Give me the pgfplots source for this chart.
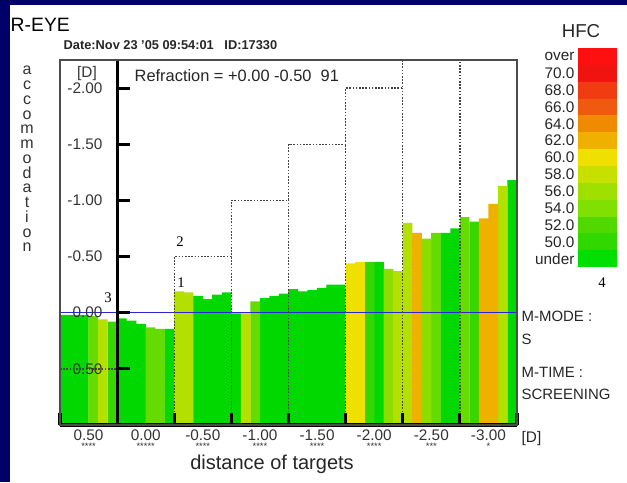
\documentclass[border=0pt]{standalone}
\usepackage{pgfplots}
\pgfplotsset{compat=1.18}
\usepackage{fontspec}
\setmainfont{Liberation Sans}
\newfontfamily\seriffont{Liberation Serif}
\definecolor{navy}{RGB}{0,0,104}
\definecolor{cG}{RGB}{0,216,0}
\definecolor{cM}{RGB}{56,214,0}
\definecolor{cL}{RGB}{100,220,0}
\definecolor{cLL}{RGB}{140,222,0}
\definecolor{cYG}{RGB}{180,224,0}
\definecolor{cY}{RGB}{240,224,0}
\definecolor{cO}{RGB}{240,176,0}
\definecolor{tgt}{RGB}{70,70,70}
\definecolor{hb0}{RGB}{255,16,16}
\definecolor{hb1}{RGB}{240,20,16}
\definecolor{hb2}{RGB}{240,60,16}
\definecolor{hb3}{RGB}{240,90,16}
\definecolor{hb4}{RGB}{240,138,0}
\definecolor{hb5}{RGB}{240,176,0}
\definecolor{hb6}{RGB}{240,224,0}
\definecolor{hb7}{RGB}{200,224,0}
\definecolor{hb8}{RGB}{160,224,0}
\definecolor{hb9}{RGB}{128,224,0}
\definecolor{hb10}{RGB}{80,216,0}
\definecolor{hb11}{RGB}{48,216,0}
\definecolor{hb12}{RGB}{0,224,0}
\newcommand{\fs}[1]{\fontsize{#1}{#1}\selectfont}
\begin{document}
\begin{tikzpicture}[x=0.75pt,y=-0.75pt]
\fill[navy] (0,0) rectangle (627,482);
\fill[white] (10,5) rectangle (627,482);
\coordinate (axpos) at (60,425);
\begin{axis}[
  at={(axpos)}, anchor=south west,
  scale only axis, width=342.75pt, height=273.75pt,
  xmin=0, xmax=8, ymin=0, ymax=3.25,
  axis on top,
  axis line style={draw=black!70, line width=0.8pt},
  major tick length=0pt,
  xtick={0.5,1.5,2.5,3.5,4.5,5.5,6.5,7.5},
  xticklabels={{0.50\\[-6pt]\fs{7}****},{0.00\\[-6pt]\fs{7}*****},{-0.50\\[-6pt]\fs{7}****},{-1.00\\[-6pt]\fs{7}****},{-1.50\\[-6pt]\fs{7}****},{-2.00\\[-6pt]\fs{7}****},{-2.50\\[-6pt]\fs{7}***},{-3.00\\[-6pt]\fs{7}*}},
  ytick={0.5,1,1.5,2,2.5,3},
  yticklabels={{0.50},{0.00},{-0.50},{-1.00},{-1.50},{-2.00}},
  xticklabel style={font=\fontsize{11.5}{13}\selectfont, align=center, text=black!80},
  yticklabel style={font=\fs{11.5}, anchor=east, xshift=35.3pt, text=black!80},
  clip=false,
]
% bars
\addplot[ybar, bar width=0.17, bar shift=0pt, fill=cG, draw=none] coordinates {
(0.0833,0.98)(0.25,0.98)(0.4167,0.98)
(1.0833,0.95)(1.25,0.93)(1.4167,0.90)(1.9167,0.855)
(2.4167,1.15)(2.5833,1.12)(2.75,1.16)(2.9167,1.18)
(3.0833,0.995)(3.5833,1.13)(3.75,1.15)(3.9167,1.17)
(4.0833,1.21)(4.25,1.19)(4.4167,1.20)(4.5833,1.22)(4.75,1.25)(4.9167,1.25)
(5.5833,1.45)
(6.75,1.71)(6.9167,1.75)
(7.9167,2.18)};
\addplot[ybar, bar width=0.17, bar shift=0pt, fill=cM, draw=none] coordinates {
(0.9167,0.92)(5.4167,1.45)(7.25,1.81)};
\addplot[ybar, bar width=0.17, bar shift=0pt, fill=cL, draw=none] coordinates {
(0.5833,0.97)(1.5833,0.87)(1.75,0.855)(3.4167,1.10)(6.5833,1.71)(7.0833,1.85)};
\addplot[ybar, bar width=0.17, bar shift=0pt, fill=cLL, draw=none] coordinates {
(5.75,1.39)(6.4167,1.66)};
\addplot[ybar, bar width=0.17, bar shift=0pt, fill=cYG, draw=none] coordinates {
(0.75,0.94)(2.0833,1.19)(2.25,1.18)(3.25,0.995)(5.9167,1.37)(6.0833,1.80)(7.75,2.13)};
\addplot[ybar, bar width=0.17, bar shift=0pt, fill=cY, draw=none] coordinates {
(5.0833,1.44)(5.25,1.45)};
\addplot[ybar, bar width=0.17, bar shift=0pt, fill=cO, draw=none] coordinates {
(6.25,1.71)(7.4167,1.84)(7.5833,1.97)};
% zero line
\addplot[draw={rgb,255:red,40;green,40;blue,210}, line width=0.8pt] coordinates {(0,1)(8,1)};
% target staircase
\addplot[tgt, line width=1pt, dash pattern=on 1.2pt off 1.2pt] coordinates {(2,0)(2,1.5)(3,1.5)(3,2)(4,2)(4,2.5)(5,2.5)(5,3)(6,3)(6,3.25)};
\addplot[tgt, line width=1pt, dash pattern=on 1.2pt off 1.2pt] coordinates {(3,0)(3,1.5)};
\addplot[tgt, line width=1pt, dash pattern=on 1.2pt off 1.2pt] coordinates {(4,0)(4,2)};
\addplot[tgt, line width=1pt, dash pattern=on 1.2pt off 1.2pt] coordinates {(5,0)(5,2.5)};
\addplot[tgt, line width=1pt, dash pattern=on 1.2pt off 1.2pt] coordinates {(6,0)(6,3)};
\addplot[tgt, line width=1pt, dash pattern=on 1.2pt off 1.2pt] coordinates {(7,0)(7,3.25)};
\addplot[tgt, line width=1pt, dash pattern=on 1.2pt off 1.2pt] coordinates {(0,0.5)(1,0.5)};
% bold axes
\draw[line width=2.2pt] (axis cs:1,0) -- (axis cs:1,3.25);
\draw[line width=2.3pt] (axis cs:0,0) -- (axis cs:8,0);
\pgfplotsinvokeforeach{0.5,1,1.5,2,2.5,3}{\draw[line width=2.3pt] (axis cs:1,#1) -- (axis cs:1.23,#1);}
\pgfplotsinvokeforeach{0,1,2,3,4,5,6,7,8}{\draw[line width=2.3pt] (axis cs:#1,0) -- (axis cs:#1,0.105);}
\end{axis}
% texts
\node[anchor=west, font=\fs{14.5}] at (6,25) {R-EYE};
\node[anchor=west, font=\bfseries\fs{9.6}, text=black!85] at (59,45) {Date:Nov 23 '05 09:54:01\ \ \ ID:17330};
\node[anchor=west, font=\fs{12.3}, text=black!85] at (130,76) {Refraction = +0.00 -0.50\ \ 91};
\node[font=\fs{11.5}, text=black!80] at (87,74) {[D]};
\node[align=center, font=\fontsize{12}{11.06}\selectfont, text=black!80] at (27,159) {a\\c\\c\\o\\m\\m\\o\\d\\a\\t\\i\\o\\n};
\node[anchor=center, font=\fs{15}, text=black!85] at (272,464) {distance of targets};
\node[anchor=west, font=\fs{11.5}, text=black!85] at (517,439) {[D]};
% annotations
\node[font=\seriffont\fs{11}] at (180,242) {2};
\node[font=\seriffont\fs{11}] at (181,283) {1};
\node[font=\seriffont\fs{11}] at (108,298) {3};
\node[font=\seriffont\fs{11}] at (602,283) {4};
% M-mode
\node[anchor=west, font=\fs{11.2}, text=black!85] at (517,316) {M-MODE :};
\node[anchor=west, font=\fs{11.2}, text=black!85] at (517,339) {S};
\node[anchor=west, font=\fs{11.2}, text=black!85] at (517,372) {M-TIME :};
\node[anchor=west, font=\fs{11.2}, text=black!85] at (517,394) {SCREENING};
% HFC colour key
\node[font=\fs{14}, text=black!85] at (581,31) {HFC};
\foreach \c [count=\i from 0] in {over,70.0,68.0,66.0,64.0,62.0,60.0,58.0,56.0,54.0,52.0,50.0,under}{
  \fill[hb\i] (578,{48+16.85*\i}) rectangle (617,{48+16.85*(\i+1)+0.3});
  \node[anchor=east, font=\fs{11.5}, text=black!85, inner sep=1pt] at (576,{56.4+16.85*\i}) {\c};
}
\end{tikzpicture}
\end{document}
